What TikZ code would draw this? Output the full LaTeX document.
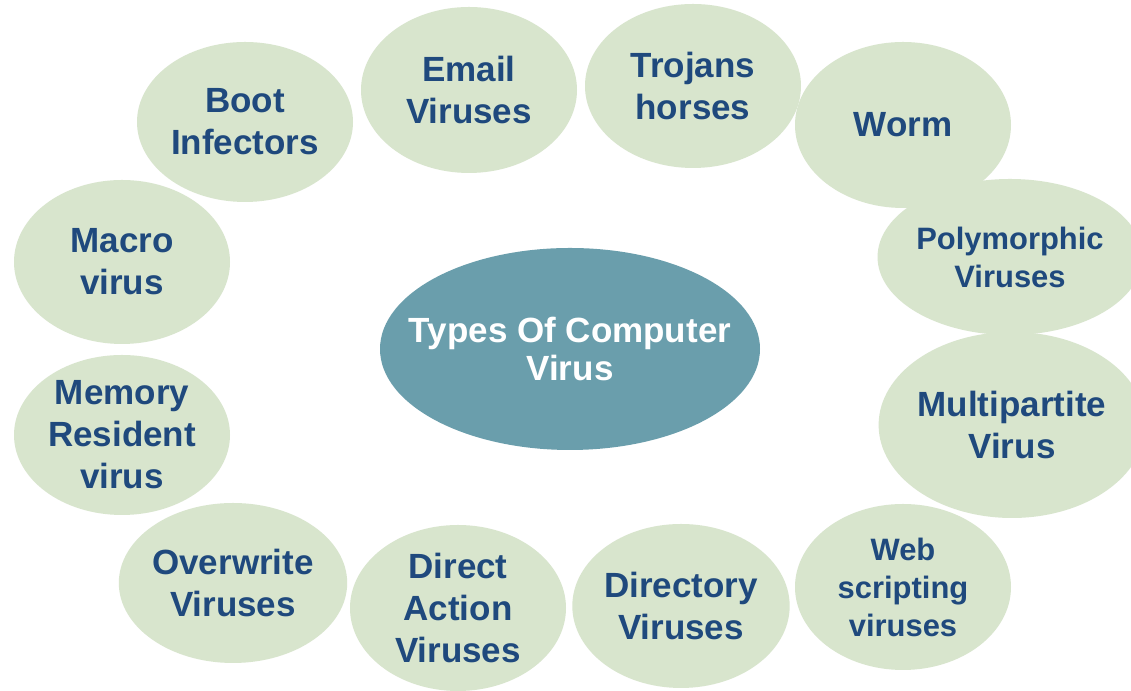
\documentclass[tikz,border=0pt]{standalone}
\usepackage{fontspec}
\setmainfont{Liberation Sans}
\usepackage{tikz}
\usetikzlibrary{shapes.geometric}

\definecolor{bubblegreen}{RGB}{216,229,205}
\definecolor{hubblue}{RGB}{106,158,172}
\definecolor{textblue}{RGB}{31,73,125}

\begin{document}
\begin{tikzpicture}
	[bubble/.style={ellipse,fill=bubblegreen,text=textblue,align=center,inner sep=0pt,
		font=\bfseries\fontsize{24.9}{29.9}\selectfont,minimum width=5.4cm,minimum height=4.1cm},
	smalltext/.style={font=\bfseries\fontsize{22}{27}\selectfont},
	hub/.style={ellipse,fill=hubblue,text=white,align=center,inner xsep=-0.7cm,inner ysep=0pt,
		font=\bfseries\fontsize{24.9}{27.5}\selectfont,minimum width=9.5cm,minimum height=5.05cm}]
	\clip (0,0) rectangle (28.275,17.275);
	\fill[white] (0,0) rectangle (28.275,17.275);
	% top row
	\node[bubble,minimum height=4.0cm] (boot) at (6.125,14.225) {Boot\\Infectors};
	\node[bubble,minimum height=4.15cm] (email) at (11.725,15.025) {Email\\Viruses};
	\node[bubble] (trojan) at (17.325,15.125) {Trojans\\horses};
	\node[bubble,minimum height=4.15cm] (worm) at (22.575,14.15) {Worm};
	% right side, runs off the edge
	\node[bubble,smalltext,minimum width=6.3cm,minimum height=3.9cm] (poly) at (25.25,10.85) {Polymorphic\\Viruses};
	\node[bubble,minimum width=6.45cm,minimum height=4.65cm] (multi) at (25.3,6.65) {Multipartite\\Virus};
	% bottom row
	\node[bubble,smalltext,minimum height=4.15cm] (web) at (22.575,2.6) {Web\\scripting\\viruses};
	\node[bubble] (dir) at (17.025,2.125) {Directory\\Viruses};
	\node[bubble,minimum height=4.15cm] (direct) at (11.45,2.075) {Direct\\Action\\Viruses};
	\node[bubble,minimum height=4.0cm] (over) at (5.825,2.7) {Overwrite\\Viruses};
	% left side
	\node[bubble,minimum height=4.0cm] (memory) at (3.05,6.4) {Memory\\Resident\\virus};
	\node[bubble] (macro) at (3.05,10.725) {Macro\\virus};
	% middle
	\node[hub] (types) at (14.25,8.55) {Types Of Computer\\Virus};
\end{tikzpicture}
\end{document}
